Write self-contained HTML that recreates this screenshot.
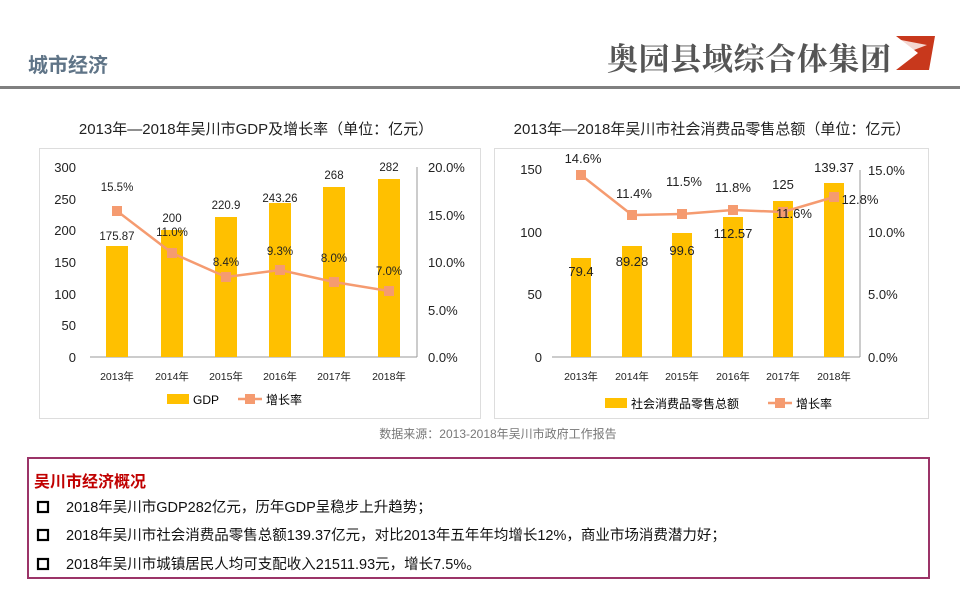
<!DOCTYPE html>
<html><head><meta charset="utf-8"><style>
body{margin:0;width:960px;height:610px;background:#fff;overflow:hidden}
svg text{font-family:"Liberation Sans","Noto Sans CJK SC",sans-serif}
</style></head><body>
<svg width="960" height="610" xmlns="http://www.w3.org/2000/svg">
<text x="28" y="72" font-size="20" font-weight="bold" fill="#5f7487">城市经济</text>
<text x="607" y="70" font-size="31" font-weight="bold" fill="#555" style="font-family:'Noto Serif CJK SC',serif" textLength="284">奥园县域综合体集团</text>
<polygon points="896,36 935,36 929,70 896,70 918,53" fill="#c8381c"/>
<polygon points="901,40 927,45 906,53" fill="#fff" opacity=".8"/>
<rect x="0" y="86" width="960" height="3" fill="#808080"/>

<!-- Left chart -->
<text x="256" y="134" font-size="15" text-anchor="middle" fill="#222">2013年—2018年吴川市GDP及增长率（单位：亿元）</text>
<rect x="39.5" y="148.5" width="441" height="270" fill="#fff" stroke="#ddd"/>
<g font-size="13" fill="#222">
<g text-anchor="end"><text x="76" y="362">0</text><text x="76" y="330">50</text><text x="76" y="299">100</text><text x="76" y="267">150</text><text x="76" y="235">200</text><text x="76" y="204">250</text><text x="76" y="172">300</text></g>
<g text-anchor="start"><text x="428" y="362">0.0%</text><text x="428" y="315">5.0%</text><text x="428" y="267">10.0%</text><text x="428" y="220">15.0%</text><text x="428" y="172">20.0%</text></g>
</g>
<line x1="90" y1="357" x2="417" y2="357" stroke="#999"/>
<line x1="417" y1="167" x2="417" y2="357" stroke="#999"/>
<g fill="#ffc000">
<rect x="106" y="246" width="22" height="111"/><rect x="161" y="230" width="22" height="127"/><rect x="215" y="217" width="22" height="140"/><rect x="269" y="203" width="22" height="154"/><rect x="323" y="187" width="22" height="170"/><rect x="378" y="179" width="22" height="178"/>
</g>
<polyline points="117,211 172,253 226,277 280,270 334,282 389,291" fill="none" stroke="#f59b70" stroke-width="2.5"/>
<g fill="#f59b70"><rect x="112" y="206" width="10" height="10"/><rect x="167" y="248" width="10" height="10"/><rect x="221" y="272" width="10" height="10"/><rect x="275" y="265" width="10" height="10"/><rect x="329" y="277" width="10" height="10"/><rect x="384" y="286" width="10" height="10"/></g>
<g font-size="11.5" fill="#222" text-anchor="middle">
<text x="117" y="240">175.87</text><text x="172" y="222">200</text><text x="226" y="209">220.9</text><text x="280" y="202">243.26</text><text x="334" y="179">268</text><text x="389" y="171">282</text>
<text x="117" y="191">15.5%</text><text x="172" y="236">11.0%</text><text x="226" y="266">8.4%</text><text x="280" y="255">9.3%</text><text x="334" y="262">8.0%</text><text x="389" y="275">7.0%</text>
</g>
<g font-size="10.5" fill="#222" text-anchor="middle">
<text x="117" y="380">2013年</text><text x="172" y="380">2014年</text><text x="226" y="380">2015年</text><text x="280" y="380">2016年</text><text x="334" y="380">2017年</text><text x="389" y="380">2018年</text>
</g>
<rect x="167" y="394" width="22" height="10" fill="#ffc000"/><text x="193" y="404" font-size="12">GDP</text>
<line x1="238" y1="399" x2="262" y2="399" stroke="#f59b70" stroke-width="2.5"/><rect x="245" y="394" width="10" height="10" fill="#f59b70"/><text x="266" y="404" font-size="12">增长率</text>

<!-- Right chart -->
<text x="712" y="134" font-size="15" text-anchor="middle" fill="#222">2013年—2018年吴川市社会消费品零售总额（单位：亿元）</text>
<rect x="494.5" y="148.5" width="434" height="270" fill="#fff" stroke="#ddd"/>
<g font-size="13" fill="#222">
<g text-anchor="end"><text x="542" y="362">0</text><text x="542" y="299">50</text><text x="542" y="237">100</text><text x="542" y="174">150</text></g>
<g text-anchor="start"><text x="868" y="362">0.0%</text><text x="868" y="299">5.0%</text><text x="868" y="237">10.0%</text><text x="868" y="175">15.0%</text></g>
</g>
<line x1="552" y1="357" x2="860" y2="357" stroke="#999"/>
<line x1="860" y1="170" x2="860" y2="357" stroke="#999"/>
<g fill="#ffc000">
<rect x="571" y="258" width="20" height="99"/><rect x="622" y="246" width="20" height="111"/><rect x="672" y="233" width="20" height="124"/><rect x="723" y="217" width="20" height="140"/><rect x="773" y="201" width="20" height="156"/><rect x="824" y="183" width="20" height="174"/>
</g>
<polyline points="581,175 632,215 682,214 733,210 783,212 834,197" fill="none" stroke="#f59b70" stroke-width="2.5"/>
<g fill="#f59b70"><rect x="576" y="170" width="10" height="10"/><rect x="627" y="210" width="10" height="10"/><rect x="677" y="209" width="10" height="10"/><rect x="728" y="205" width="10" height="10"/><rect x="778" y="207" width="10" height="10"/><rect x="829" y="192" width="10" height="10"/></g>
<g font-size="13" fill="#222" text-anchor="middle">
<text x="581" y="276">79.4</text><text x="632" y="266">89.28</text><text x="682" y="255">99.6</text><text x="733" y="238">112.57</text><text x="783" y="189">125</text><text x="834" y="172">139.37</text>
<text x="583" y="163">14.6%</text><text x="634" y="198">11.4%</text><text x="684" y="186">11.5%</text><text x="733" y="192">11.8%</text><text x="794" y="218">11.6%</text><text x="860" y="204">12.8%</text>
</g>
<g font-size="10.5" fill="#222" text-anchor="middle">
<text x="581" y="380">2013年</text><text x="632" y="380">2014年</text><text x="682" y="380">2015年</text><text x="733" y="380">2016年</text><text x="783" y="380">2017年</text><text x="834" y="380">2018年</text>
</g>
<rect x="605" y="398" width="22" height="10" fill="#ffc000"/><text x="631" y="408" font-size="12">社会消费品零售总额</text>
<line x1="768" y1="403" x2="792" y2="403" stroke="#f59b70" stroke-width="2.5"/><rect x="775" y="398" width="10" height="10" fill="#f59b70"/><text x="796" y="408" font-size="12">增长率</text>

<text x="498" y="438" font-size="12" fill="#777" text-anchor="middle">数据来源：2013-2018年吴川市政府工作报告</text>

<rect x="28" y="458" width="901" height="120" fill="#fff" stroke="#9b3468" stroke-width="2"/>
<text x="34" y="487" font-size="16" font-weight="bold" fill="#c00000">吴川市经济概况</text>
<g font-size="14.5" fill="#111">
<rect x="38" y="502" width="10" height="10" fill="none" stroke="#000" stroke-width="2.2"/><text x="66" y="512">2018年吴川市GDP282亿元，历年GDP呈稳步上升趋势；</text>
<rect x="38" y="530" width="10" height="10" fill="none" stroke="#000" stroke-width="2.2"/><text x="66" y="540">2018年吴川市社会消费品零售总额139.37亿元，对比2013年五年年均增长12%，商业市场消费潜力好；</text>
<rect x="38" y="559" width="10" height="10" fill="none" stroke="#000" stroke-width="2.2"/><text x="66" y="569">2018年吴川市城镇居民人均可支配收入21511.93元，增长7.5%。</text>
</g>
</svg>
</body></html>
